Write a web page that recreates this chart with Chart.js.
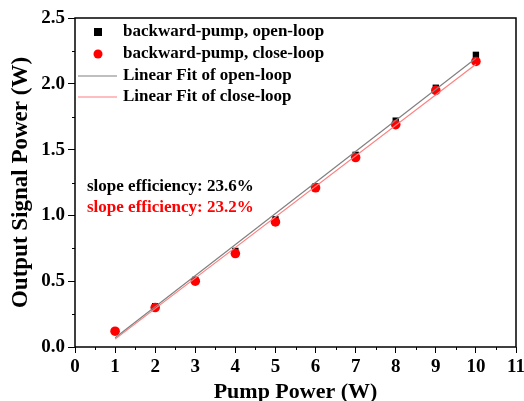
<!DOCTYPE html>
<html><head><meta charset="utf-8">
<script src="https://cdn.jsdelivr.net/npm/chart.js@4"></script>
<style>html,body{margin:0;padding:0;background:#fff}#wrap{width:524px;height:401px}</style>
</head><body><div id="wrap"><canvas id="c" width="524" height="401"></canvas></div>
<script>
const pumpPower = [1, 2, 3, 4, 5, 6, 7, 8, 9, 10];
const openLoop = [0.12, 0.31, 0.51, 0.73, 0.97, 1.22, 1.46, 1.72, 1.97, 2.22];
const closeLoop = [0.12, 0.30, 0.50, 0.71, 0.95, 1.21, 1.44, 1.69, 1.95, 2.17];
const fitX = [1, 10];
const fitOpen = [0.07, 2.194];
const fitClose = [0.06, 2.148];
const seriesLabels = ['backward-pump, open-loop', 'backward-pump, close-loop', 'Linear Fit of open-loop', 'Linear Fit of close-loop'];
const slopeTexts = ['slope efficiency: 23.6%', 'slope efficiency: 23.2%'];

const FONT = '"Liberation Serif", "Times New Roman", serif';
const pts = (xs, ys) => xs.map((x, i) => ({x, y: ys[i]}));

const decor = {
  id: 'decor',
  afterDraw(chart) {
    const {ctx, chartArea: a, scales: {x, y}} = chart;
    ctx.save();
    ctx.strokeStyle = '#000';
    ctx.lineWidth = 1.5;
    ctx.strokeRect(a.left, a.top, a.right - a.left, a.bottom - a.top);
    ctx.lineWidth = 1;
    ctx.beginPath();
    for (let v = 0.5; v < 11; v += 1) {
      const px = Math.round(x.getPixelForValue(v)) + 0.5;
      ctx.moveTo(px, a.bottom); ctx.lineTo(px, a.bottom + 3);
    }
    for (let v = 0.25; v < 2.5; v += 0.5) {
      const py = Math.round(y.getPixelForValue(v)) + 0.5;
      ctx.moveTo(a.left, py); ctx.lineTo(a.left - 3, py);
    }
    ctx.stroke();
    // legend
    ctx.font = 'bold 17px ' + FONT;
    ctx.textBaseline = 'middle';
    ctx.textAlign = 'left';
    const rows = [32, 54, 76, 97];
    const mx = 98, tx = 123;
    ctx.fillStyle = '#000';
    ctx.fillRect(mx - 4, rows[0] - 4, 8, 8);
    ctx.fillStyle = '#ff0000';
    ctx.beginPath(); ctx.arc(mx, rows[1], 4.5, 0, Math.PI * 2); ctx.fill();
    ctx.lineWidth = 1.2;
    ctx.strokeStyle = '#808080';
    ctx.beginPath(); ctx.moveTo(78, rows[2]); ctx.lineTo(117, rows[2]); ctx.stroke();
    ctx.strokeStyle = '#ff7f7f';
    ctx.beginPath(); ctx.moveTo(78, rows[3]); ctx.lineTo(117, rows[3]); ctx.stroke();
    ctx.fillStyle = '#000';
    seriesLabels.forEach((t, i) => ctx.fillText(t, tx, rows[i]));
    // slope annotations
    ctx.font = 'bold 17px ' + FONT;
    ctx.fillStyle = '#000';
    ctx.fillText(slopeTexts[0], 87, 187);
    ctx.fillStyle = '#ff0000';
    ctx.fillText(slopeTexts[1], 87, 208);
    ctx.restore();
  }
};

new Chart(document.getElementById('c'), {
  type: 'scatter',
  data: {
    datasets: [
      {label: seriesLabels[2], type: 'line', data: pts(fitX, fitOpen), borderColor: '#808080', borderWidth: 1.2, pointRadius: 0, order: 0},
      {label: seriesLabels[3], type: 'line', data: pts(fitX, fitClose), borderColor: '#ff7f7f', borderWidth: 1.2, pointRadius: 0, order: 0},
      {label: seriesLabels[0], data: pts(pumpPower, openLoop), pointStyle: 'rect', pointRadius: 4.5, backgroundColor: '#000', borderColor: '#000', borderWidth: 0, order: 2},
      {label: seriesLabels[1], data: pts(pumpPower, closeLoop), pointStyle: 'circle', pointRadius: 4.8, backgroundColor: '#ff0000', borderColor: '#ff0000', borderWidth: 0, order: 1}
    ]
  },
  options: {
    responsive: false,
    animation: false,
    layout: {padding: {top: 18, right: 8, left: 0, bottom: 0}},
    plugins: {legend: {display: false}, tooltip: {enabled: false}},
    scales: {
      x: {
        type: 'linear', min: 0, max: 11,
        afterFit(s) { s.height = 54; s.paddingRight = 0; s.paddingLeft = 0; },
        border: {display: false},
        grid: {drawOnChartArea: false, drawTicks: true, tickLength: 6, color: '#000', lineWidth: 1},
        ticks: {stepSize: 1, color: '#000', padding: 3, maxRotation: 0, font: {family: FONT, size: 19, weight: 'bold'}},
        title: {display: true, text: 'Pump Power (W)', color: '#000', padding: {top: 0, bottom: -5}, font: {family: FONT, size: 22, weight: 'bold'}}
      },
      y: {
        min: 0, max: 2.5,
        afterFit(s) { s.width = 75; s.paddingTop = 0; s.paddingBottom = 0; },
        border: {display: false},
        grid: {drawOnChartArea: false, drawTicks: true, tickLength: 7, color: '#000', lineWidth: 1},
        ticks: {stepSize: 0.5, color: '#000', padding: 3, font: {family: FONT, size: 19, weight: 'bold'}, callback: v => v.toFixed(1)},
        title: {display: true, text: 'Output Signal Power (W)', color: '#000', padding: {top: 7, bottom: 0}, font: {family: FONT, size: 23, weight: 'bold'}}
      }
    }
  },
  plugins: [decor]
});
</script></body></html>
